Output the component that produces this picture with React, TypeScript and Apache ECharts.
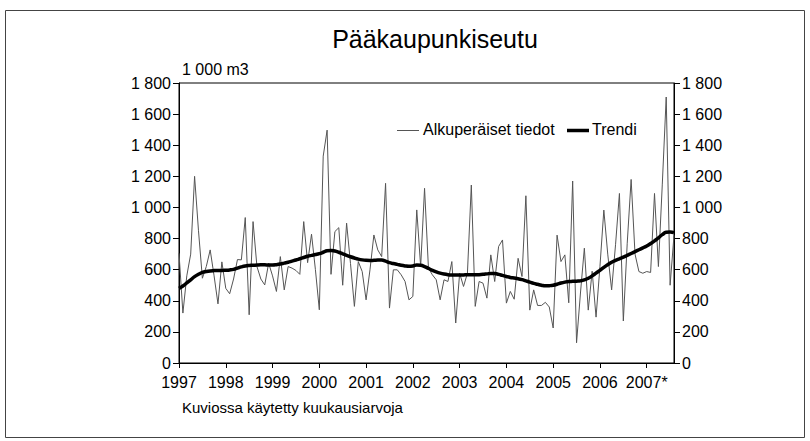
import React, { useEffect, useRef } from "react";
import * as echarts from "echarts";

const yearLabels = ["1997", "1998", "1999", "2000", "2001", "2002", "2003", "2004", "2005", "2006", "2007*"];
const yTicks = [0, 200, 400, 600, 800, 1000, 1200, 1400, 1600, 1800];
const legendNames = ["Alkuperäiset tiedot", "Trendi"];

// Monthly values from Jan 1997 to Aug 2007 (1 000 m3)
const original = [
  705, 321, 560, 700, 1200, 850, 545, 620, 727, 560, 380, 650,
  480, 445, 540, 665, 663, 935, 310, 909, 620, 540, 502, 642,
  560, 460, 684, 470, 620, 610, 595, 570, 909, 645, 828, 600,
  342, 1330, 1497, 570, 845, 870, 500, 899, 640, 364, 652, 588,
  406, 599, 823, 727, 684, 1155, 353, 599, 599, 567, 524, 406,
  428, 984, 620, 1123, 610, 567, 535, 406, 535, 524, 652, 257,
  577, 492, 577, 1144, 364, 524, 513, 417, 695, 524, 749, 791,
  385, 460, 410, 673, 556, 1075, 340, 470, 370, 370, 390, 360,
  225, 822, 652, 695, 387, 1170, 130, 450, 738, 340, 590, 295,
  620, 983, 700, 470, 760, 1090, 270, 770, 1180, 700, 588, 577,
  588, 582, 1090, 620, 1150, 1710, 500, 820,
];

const trend = [
  480, 495, 515, 535, 555, 570, 582, 588, 592, 594, 595, 595,
  596, 598, 602, 610, 618, 624, 627, 628, 630, 631, 631, 630,
  630, 632, 636, 642, 648, 655, 662, 670, 678, 686, 692, 697,
  703, 712, 722, 724, 720, 712, 702, 692, 683, 675, 668, 663,
  660, 659, 660, 662, 662, 655, 645, 640, 634, 628, 624, 622,
  624, 630, 628, 620, 608, 596, 586, 578, 572, 568, 566, 565,
  565, 566, 567, 567, 567, 568, 570, 573, 576, 575, 570, 563,
  556, 550, 546, 542, 536, 528, 520, 512, 506, 500, 496, 497,
  500, 506, 514, 520, 524, 525, 526, 528, 534, 545, 560, 578,
  596, 615, 632, 648, 660, 670, 680, 692, 704, 716, 728, 740,
  752, 768, 785, 805, 825, 840, 842, 838,
];

const fmtThousands = (v: number) =>
  String(v).replace(/\B(?=(\d{3})+(?!\d))/g, " ");

export default function App() {
  const ref = useRef<HTMLDivElement>(null);
  useEffect(() => {
    if (!ref.current) return;
    const chart = echarts.init(ref.current, null, { renderer: "svg" });
    const font = "'Liberation Sans', Arial, sans-serif";
    const xMax = original.length - 1;
    const yAxisCommon = {
      type: "value" as const,
      min: 0,
      max: 1800,
      interval: 200,
      axisLine: { show: true, lineStyle: { color: "#000", width: 1 } },
      axisTick: { show: true, inside: false, length: 6, lineStyle: { color: "#000" } },
      splitLine: { show: false },
      axisLabel: {
        color: "#000",
        fontSize: 16,
        fontFamily: font,
        formatter: (v: number) => (yTicks.includes(v) ? fmtThousands(v) : ""),
      },
    };
    chart.setOption({
      animation: false,
      backgroundColor: "#fff",
      title: {
        text: "Pääkaupunkiseutu",
        left: 430,
        top: 21,
        textAlign: "center",
        textStyle: { fontSize: 25, fontWeight: "normal", color: "#000", fontFamily: font },
      },
      legend: { show: false },
      grid: { left: 179, top: 83, width: 495, height: 280, show: true, borderColor: "#000", borderWidth: 1, containLabel: false },
      xAxis: {
        type: "value",
        min: 0,
        max: xMax,
        interval: 12,
        axisLine: { show: true, lineStyle: { color: "#000" } },
        axisTick: { show: true, length: 5, lineStyle: { color: "#000" } },
        splitLine: { show: false },
        axisLabel: {
          color: "#000",
          fontSize: 16,
          fontFamily: font,
          margin: 11,
          showMaxLabel: false,
          formatter: (v: number) => {
            const idx = Math.round(v / 12);
            return v % 12 === 0 && idx < yearLabels.length ? yearLabels[idx] : "";
          },
        },
      },
      yAxis: [
        { ...yAxisCommon, position: "left" },
        { ...yAxisCommon, position: "right" },
      ],
      graphic: [
        {
          type: "rect",
          shape: { x: 5.5, y: 10.5, width: 799, height: 427 },
          style: { fill: "none", stroke: "#444", lineWidth: 1 },
          silent: true,
        },
        {
          type: "text",
          left: 182,
          top: 61,
          style: { text: "1 000 m3", fontSize: 16, fill: "#000", fontFamily: font },
        },
        {
          type: "text",
          left: 182,
          top: 400,
          style: { text: "Kuviossa käytetty kuukausiarvoja", fontSize: 15, fill: "#000", fontFamily: font },
        },
        {
          type: "line",
          shape: { x1: 397, y1: 130.5, x2: 419, y2: 130.5 },
          style: { stroke: "#555", lineWidth: 1 },
        },
        {
          type: "text",
          left: 423,
          top: 121,
          style: { text: legendNames[0], fontSize: 16, fill: "#000", fontFamily: font },
        },
        {
          type: "line",
          shape: { x1: 567, y1: 130.5, x2: 589, y2: 130.5 },
          style: { stroke: "#000", lineWidth: 3.5 },
        },
        {
          type: "text",
          left: 592,
          top: 121,
          style: { text: legendNames[1], fontSize: 16, fill: "#000", fontFamily: font },
        },
      ],
      series: [
        {
          name: legendNames[0],
          type: "line",
          data: original.map((v, i) => [i, v]),
          showSymbol: false,
          symbol: "none",
          lineStyle: { color: "#555", width: 1 },
          itemStyle: { color: "#555" },
          z: 2,
        },
        {
          name: legendNames[1],
          type: "line",
          data: trend.map((v, i) => [i, v]),
          showSymbol: false,
          symbol: "none",
          smooth: true,
          lineStyle: { color: "#000", width: 3.5 },
          itemStyle: { color: "#000" },
          z: 3,
        },
      ],
    });
    return () => chart.dispose();
  }, []);
  return (
    <div
      ref={ref}
      style={{ position: "fixed", left: 0, top: 0, width: 810, height: 441 }}
    />
  );
}
